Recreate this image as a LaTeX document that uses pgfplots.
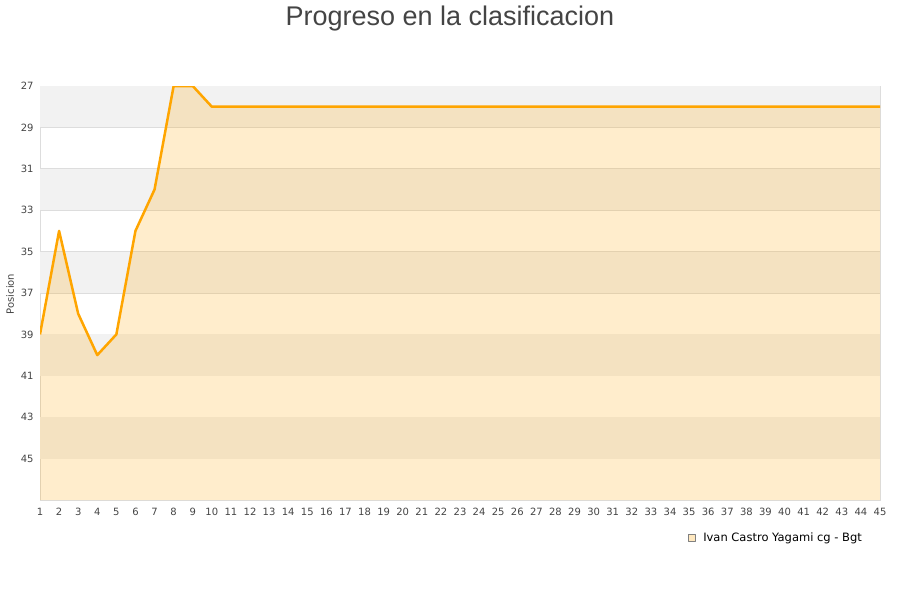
\documentclass[border=0pt]{standalone}
\usepackage{pgfplots}
\pgfplotsset{compat=1.18}
\usepackage{fontspec}
\setmainfont{DejaVu Sans}
\newfontfamily\titlefont{Liberation Sans}
\definecolor{txt}{HTML}{444444}
\definecolor{band}{HTML}{F2F2F2}
\definecolor{gridc}{HTML}{DDDDDD}
\definecolor{lineor}{HTML}{FFA500}

\pgfplotstableread{
x y
1 39
2 34
3 38
4 40
5 39
6 34
7 32
8 27
9 27
10 28
11 28
12 28
13 28
14 28
15 28
16 28
17 28
18 28
19 28
20 28
21 28
22 28
23 28
24 28
25 28
26 28
27 28
28 28
29 28
30 28
31 28
32 28
33 28
34 28
35 28
36 28
37 28
38 28
39 28
40 28
41 28
42 28
43 28
44 28
45 28
}\ivan

\begin{document}
\begin{tikzpicture}
\path[use as bounding box] (0,0) rectangle (900bp,600bp);
\begin{axis}[
  at={(40bp,100bp)}, anchor=south west,
  scale only axis,
  width=840bp, height=414bp,
  xmin=1, xmax=45, ymin=27, ymax=47,
  y dir=reverse,
  xtick={1,...,45},
  ytick={27,29,...,45},
  tick style={draw=none},
  ymajorgrids, grid style={gridc, line width=0.8bp},
  axis line style={gridc},
  ticklabel style={font=\fontsize{10bp}{12bp}\selectfont, text=txt},
  /pgf/number format/assume math mode=true,
  xticklabel style={yshift=-5bp},
  yticklabel style={xshift=-3bp},
  ylabel={Posicion},
  ylabel style={font=\fontsize{10bp}{12bp}\selectfont, text=txt, at={(ticklabel cs:0.5)}, xshift=-1bp},
  legend style={at={(0.981,-0.092)}, anchor=east, draw=none, fill=none, inner sep=0pt,
    font=\fontsize{11.5bp}{13bp}\selectfont, text=black},
  legend cell align=left,
]
\fill[band] (axis cs:1,27) rectangle (axis cs:45,29);
\fill[band] (axis cs:1,31) rectangle (axis cs:45,33);
\fill[band] (axis cs:1,35) rectangle (axis cs:45,37);
\fill[band] (axis cs:1,39) rectangle (axis cs:45,41);
\fill[band] (axis cs:1,43) rectangle (axis cs:45,45);
\addplot[draw=none, fill=lineor, fill opacity=0.2, forget plot]
  coordinates {(1,39) (2,34) (3,38) (4,40) (5,39) (6,34) (7,32) (8,27) (9,27) (10,28) (45,28) (45,47) (1,47)} -- cycle;
\addplot[lineor, line width=2.5bp, line join=round,
  legend image code/.code={\draw[draw=gray, fill=lineor!25, line width=0.6bp] (0bp,-3.5bp) rectangle (7bp,3.5bp);
    \path[draw=none, fill=none] (0bp,0bp) rectangle (13bp,0.1bp);}]
  table[x=x, y=y] {\ivan};
\legend{Ivan Castro Yagami cg - Bgt}
\end{axis}
\node[text=txt, font=\titlefont\fontsize{27bp}{30bp}\selectfont] at (450bp,581bp) {Progreso en la clasificacion};
\end{tikzpicture}
\end{document}
